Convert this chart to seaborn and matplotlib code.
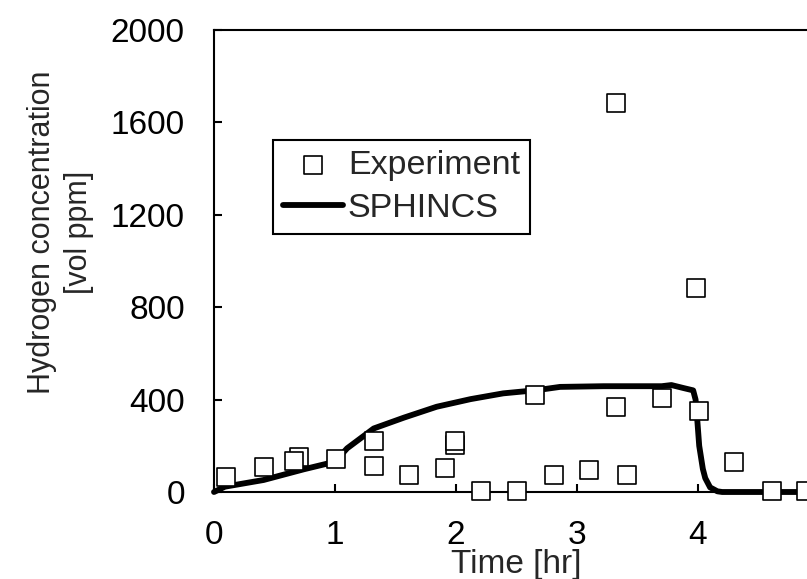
import numpy as np
import pandas as pd
import matplotlib
matplotlib.use("Agg")
import matplotlib.pyplot as plt
import seaborn as sns

# experiment points (time in hr, hydrogen in vol ppm)
exp_time = [0.10, 0.41, 0.70, 0.66, 1.01, 1.32, 1.32, 1.61, 1.91, 1.99, 1.99,
            2.21, 2.50, 2.65, 2.81, 3.10, 3.32, 3.32, 3.41, 3.70, 3.98, 4.01,
            4.30, 4.61, 4.89]
exp_h2 = [66, 107, 153, 133, 141, 220, 114, 73, 102, 203, 220,
          6, 6, 420, 73, 95, 369, 1683, 73, 405, 881, 350,
          131, 6, 6]

# SPHINCS simulation curve
sim_time = [0.0, 0.09, 0.41, 0.74, 1.00, 1.10, 1.32, 1.57, 1.84, 2.12, 2.39,
            2.67, 2.86, 3.22, 3.70, 3.78, 3.88, 3.96, 3.98, 3.99, 4.01, 4.04,
            4.06, 4.10, 4.16, 4.20, 5.0]
sim_h2 = [0, 23, 52, 98, 131, 189, 275, 322, 369, 402, 427,
          441, 455, 458, 458, 463, 450, 440, 400, 340, 200, 100,
          60, 20, 3, 0, 0]

xtick_vals = [0, 1, 2, 3, 4]
ytick_vals = [0, 400, 800, 1200, 1600, 2000]

sns.set_style("ticks")
plt.rcParams['font.family'] = ['Liberation Sans', 'DejaVu Sans']

exp = pd.DataFrame({"t": exp_time, "h2": exp_h2})
sim = pd.DataFrame({"t": sim_time, "h2": sim_h2})

fig = plt.figure(figsize=(8.07, 5.79), dpi=100)
ax = fig.add_axes([214/807, 1-492/579, 605/807, 462/579])

sns.lineplot(data=sim, x="t", y="h2", color="black", lw=4.2, estimator=None,
             label="SPHINCS", ax=ax, zorder=2, clip_on=False)
sns.scatterplot(data=exp, x="t", y="h2", marker="s", s=150, facecolor="white",
                edgecolor="black", linewidth=1.2, label="Experiment", ax=ax,
                zorder=3, clip_on=False)

ax.set_xlim(0, 5)
ax.set_ylim(0, 2000)
ax.set_xticks(xtick_vals)
ax.set_yticks(ytick_vals)
ax.tick_params(direction="in", length=6, width=1.5, labelsize=24, colors="black")
ax.tick_params(axis="y", pad=21)
ax.tick_params(axis="x", pad=20)
for sp in ax.spines.values():
    sp.set_linewidth(1.5)
    sp.set_color("black")

ax.set_xlabel("Time [hr]", fontsize=24, va="top")
ax.xaxis.set_label_coords(0.5, -0.124)
ax.set_ylabel("Hydrogen concentration\n[vol ppm]", fontsize=22, va="center",
              ha="center", linespacing=1.3)
ax.yaxis.set_label_coords(-0.253, 0.563)

h, l = ax.get_legend_handles_labels()
leg = ax.legend([h[1], h[0]], [l[1], l[0]], loc="upper left",
                bbox_to_anchor=(0.0975, 0.762), fontsize=24.5, frameon=True,
                fancybox=False, framealpha=1, edgecolor="black",
                handlelength=1.75, handletextpad=0.15, labelspacing=0.35,
                borderpad=0.3, borderaxespad=0)
leg.get_frame().set_linewidth(1.5)

fig.savefig("out.png", dpi=100)
